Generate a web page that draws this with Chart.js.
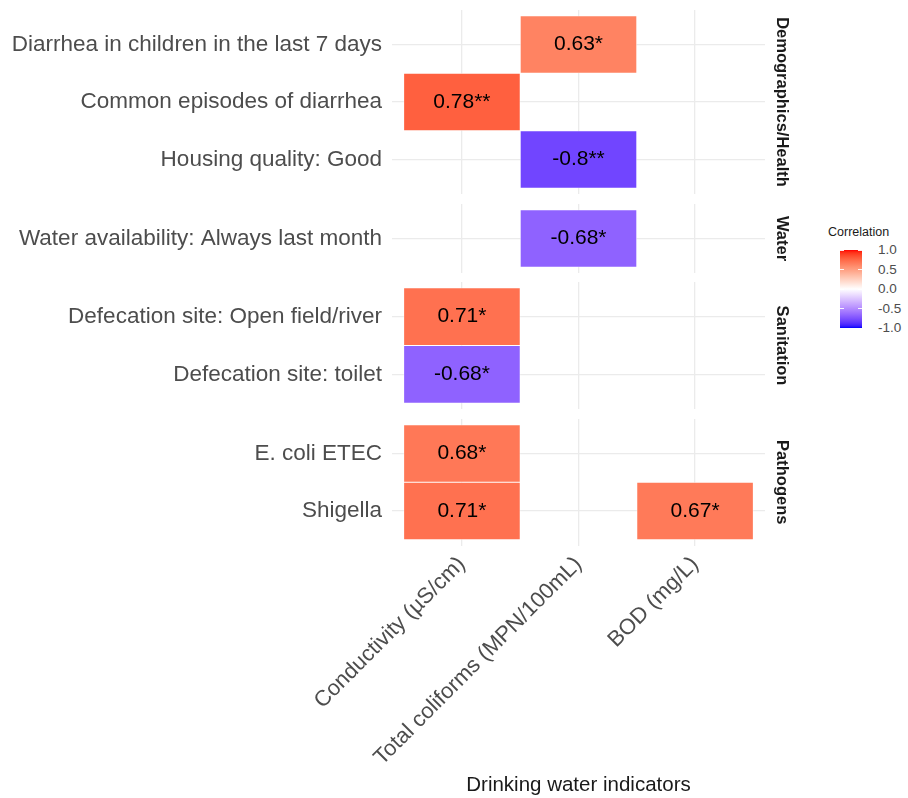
<!DOCTYPE html>
<html>
<head>
<meta charset="utf-8">
<script src="https://cdn.jsdelivr.net/npm/chart.js@4.4.1/dist/chart.umd.min.js"></script>
<style>
  html, body { margin: 0; padding: 0; background: #fff; width: 908px; height: 798px; overflow: hidden;
    font-family: "Liberation Sans", Arial, sans-serif; }
  .facet { position: absolute; left: 0; }
  .facet canvas { display: block; }
  #legend { position: absolute; left: 828px; top: 223px; width: 80px; height: 120px; }
  #legend .title { position: absolute; left: 0; top: 2px; font-size: 12.5px; color: #1a1a1a; white-space: nowrap; }
  #legend .bar { position: absolute; left: 12px; top: 27px; width: 22px; height: 78px; }
  #legend .tick { position: absolute; height: 1px; width: 4px; background: rgba(255,255,255,0.9); }
  #legend .lab { position: absolute; left: 50px; font-size: 13.5px; color: #4d4d4d; line-height: 14px; margin-top: -7px; white-space: nowrap; }
</style>
</head>
<body>
<div class="facet" id="f0" style="top:10px"><canvas id="c0" width="800" height="184"></canvas></div>
<div class="facet" id="f1" style="top:204px"><canvas id="c1" width="800" height="69"></canvas></div>
<div class="facet" id="f2" style="top:282px"><canvas id="c2" width="800" height="127"></canvas></div>
<div class="facet" id="f3" style="top:419px"><canvas id="c3" width="800" height="379"></canvas></div>
<div id="legend"></div>
<script>
// Drinking water indicators (columns)
const indicators = ['Conductivity (µS/cm)', 'Total coliforms (MPN/100mL)', 'BOD (mg/L)'];
// Variable groups (facets)
const groups = ['Demographics/Health', 'Water', 'Sanitation', 'Pathogens'];
// Household / health variables (rows) and the group each belongs to
const variables = [
  'Diarrhea in children in the last 7 days',
  'Common episodes of diarrhea',
  'Housing quality: Good',
  'Water availability: Always last month',
  'Defecation site: Open field/river',
  'Defecation site: toilet',
  'E. coli ETEC',
  'Shigella'
];
const variableGroup = [0, 0, 0, 1, 2, 2, 3, 3];
// Significant correlations: row variable, column indicator, coefficient, significance stars
const cellVariable  = [0, 1, 2, 3, 4, 5, 6, 7, 7];
const cellIndicator = [1, 0, 1, 1, 0, 0, 0, 0, 2];
const cellR         = [0.63, 0.78, -0.8, -0.68, 0.71, -0.68, 0.68, 0.71, 0.67];
const cellStars     = ['*', '**', '**', '*', '*', '*', '*', '*', '*'];
// Colour bar breaks
const legendTicks = [1.0, 0.5, 0.0, -0.5, -1.0];

const FONT = '"Liberation Sans", Arial, sans-serif';

// ---- diverging blue-white-red scale, interpolated in CIE Lab ----
function toLinear(c) { c /= 255; return c <= 0.04045 ? c / 12.92 : Math.pow((c + 0.055) / 1.055, 2.4); }
function toGamma(c) { c = c <= 0.0031308 ? 12.92 * c : 1.055 * Math.pow(c, 1 / 2.4) - 0.055; return Math.round(Math.min(1, Math.max(0, c)) * 255); }
function rgbToLab(rgb) {
  const [R, G, B] = rgb.map(toLinear);
  const X = (0.4124 * R + 0.3576 * G + 0.1805 * B) / 0.95047;
  const Y = (0.2126 * R + 0.7152 * G + 0.0722 * B);
  const Z = (0.0193 * R + 0.1192 * G + 0.9505 * B) / 1.08883;
  const f = t => t > 0.008856 ? Math.cbrt(t) : 7.787 * t + 16 / 116;
  const fx = f(X), fy = f(Y), fz = f(Z);
  return [116 * fy - 16, 500 * (fx - fy), 200 * (fy - fz)];
}
function labToRgb([L, a, b]) {
  const fy = (L + 16) / 116, fx = fy + a / 500, fz = fy - b / 200;
  const inv = t => { const t3 = t * t * t; return t3 > 0.008856 ? t3 : (t - 16 / 116) / 7.787; };
  const X = 0.95047 * inv(fx), Y = inv(fy), Z = 1.08883 * inv(fz);
  const R = 3.2406 * X - 1.5372 * Y - 0.4986 * Z;
  const G = -0.9689 * X + 1.8758 * Y + 0.0415 * Z;
  const B = 0.0557 * X - 0.2040 * Y + 1.0570 * Z;
  return [toGamma(R), toGamma(G), toGamma(B)];
}
const LAB_LOW = rgbToLab([0, 0, 255]), LAB_MID = rgbToLab([255, 255, 255]), LAB_HIGH = rgbToLab([255, 0, 0]);
function fillFor(r) {
  const t = Math.min(1, Math.abs(r));
  const end = r >= 0 ? LAB_HIGH : LAB_LOW;
  const lab = LAB_MID.map((m, k) => m + t * (end[k] - m));
  const [R, G, B] = labToRgb(lab);
  return `rgb(${R},${G},${B})`;
}

// ---- cell value labels ----
const cellText = {
  id: 'cellText',
  afterDatasetsDraw(chart) {
    const { ctx } = chart;
    const meta = chart.getDatasetMeta(0);
    const pts = chart.data.datasets[0].data;
    ctx.save();
    ctx.font = '21px ' + FONT;
    ctx.fillStyle = '#000';
    ctx.textAlign = 'center';
    ctx.textBaseline = 'middle';
    meta.data.forEach((bar, i) => {
      const p = bar.getCenterPoint();
      ctx.fillText(pts[i].label, p.x, p.y);
    });
    ctx.restore();
  }
};

function zeroPad(s) { s.paddingTop = 0; s.paddingBottom = 0; s.paddingLeft = 0; s.paddingRight = 0; }

const GRID = '#EBEBEB';
const PANEL_LEFT = 392;   // width of the row-label area
const STRIP_W = 35;       // width of the facet strip on the right
const UNIT = 57.5;        // pixel height of one row

groups.forEach((g, gi) => {
  const rows = variables.map((v, i) => i).filter(i => variableGroup[i] === gi);
  const rowNames = rows.map(i => variables[i]);
  const pts = [];
  cellR.forEach((r, k) => {
    const ri = rows.indexOf(cellVariable[k]);
    if (ri < 0) return;
    const row = ri + 1;
    pts.push({ x: cellIndicator[k] + 1, y: [row - 0.5, row + 0.5], r: r, label: String(r) + cellStars[k] });
  });
  const last = gi === groups.length - 1;
  const canvas = document.getElementById('c' + gi);

  new Chart(canvas, {
    type: 'bar',
    data: {
      datasets: [{
        data: pts,
        xAxisID: 'x',
        yAxisID: 'y',
        backgroundColor: pts.map(p => fillFor(p.r)),
        borderColor: 'rgba(255,255,255,0.55)',
        borderWidth: 0.8,
        borderSkipped: false,
        categoryPercentage: 1,
        barPercentage: 1
      }]
    },
    options: {
      responsive: false,
      animation: false,
      events: [],
      layout: { padding: 0 },
      plugins: { legend: { display: false }, tooltip: { enabled: false } },
      scales: {
        x: {
          type: 'linear',
          offset: false,
          min: 0.4, max: 3.6,
          grid: { color: GRID, lineWidth: 1.3, drawTicks: false, offset: false },
          border: { display: false },
          ticks: {
            display: last,
            stepSize: 1, includeBounds: false, autoSkip: false,
            minRotation: 45, maxRotation: 45,
            padding: 6,
            color: '#4d4d4d',
            font: { family: FONT, size: 22 },
            callback: v => indicators[v - 1] || ''
          },
          title: {
            display: last,
            text: 'Drinking water indicators',
            color: '#1a1a1a',
            font: { family: FONT, size: 20.5 },
            padding: { top: 0, bottom: 0 }
          },
          afterFit(s) {
            zeroPad(s);
            s.height = last ? canvas.height - UNIT * 2.2 : 0;
          }
        },
        y: {
          type: 'linear',
          reverse: true,
          offset: false,
          min: 0.4, max: rows.length + 0.6,
          grid: { color: GRID, lineWidth: 1.3, drawTicks: false, offset: false },
          border: { display: false },
          ticks: {
            stepSize: 1, includeBounds: false, autoSkip: false,
            padding: 10,
            color: '#4d4d4d',
            font: { family: FONT, size: 22.5 },
            callback: v => rowNames[v - 1] || ''
          },
          afterFit(s) { zeroPad(s); s.width = PANEL_LEFT; }
        },
        strip: {
          type: 'linear',
          position: 'right',
          min: 0, max: 1,
          grid: { display: false },
          border: { display: false },
          ticks: { display: false },
          title: {
            display: true,
            text: g,
            color: '#1a1a1a',
            font: { family: FONT, size: 16.5, weight: 'bold' },
            padding: { top: 9, bottom: 9 }
          },
          afterFit(s) { zeroPad(s); s.width = STRIP_W; }
        }
      }
    },
    plugins: [cellText]
  });
});

// ---- colour bar legend ----
(function buildLegend() {
  const el = document.getElementById('legend');
  const title = document.createElement('div');
  title.className = 'title';
  title.textContent = 'Correlation';
  el.appendChild(title);
  const bar = document.createElement('div');
  bar.className = 'bar';
  const stops = [];
  for (let i = 0; i <= 40; i++) {
    const v = 1 - i / 20;
    stops.push(fillFor(v) + ' ' + (i / 40 * 100).toFixed(1) + '%');
  }
  bar.style.background = 'linear-gradient(to bottom, ' + stops.join(', ') + ')';
  el.appendChild(bar);
  const barTop = 27, barH = 78, barLeft = 12, barW = 22;
  legendTicks.forEach(v => {
    const y = barTop + (1 - v) / 2 * barH;
    [barLeft, barLeft + barW - 4].forEach(x => {
      const t = document.createElement('div');
      t.className = 'tick';
      t.style.left = x + 'px';
      t.style.top = (y - 0.5) + 'px';
      el.appendChild(t);
    });
    const lab = document.createElement('div');
    lab.className = 'lab';
    lab.style.top = y + 'px';
    lab.textContent = v.toFixed(1);
    el.appendChild(lab);
  });
})();
</script>
</body>
</html>
